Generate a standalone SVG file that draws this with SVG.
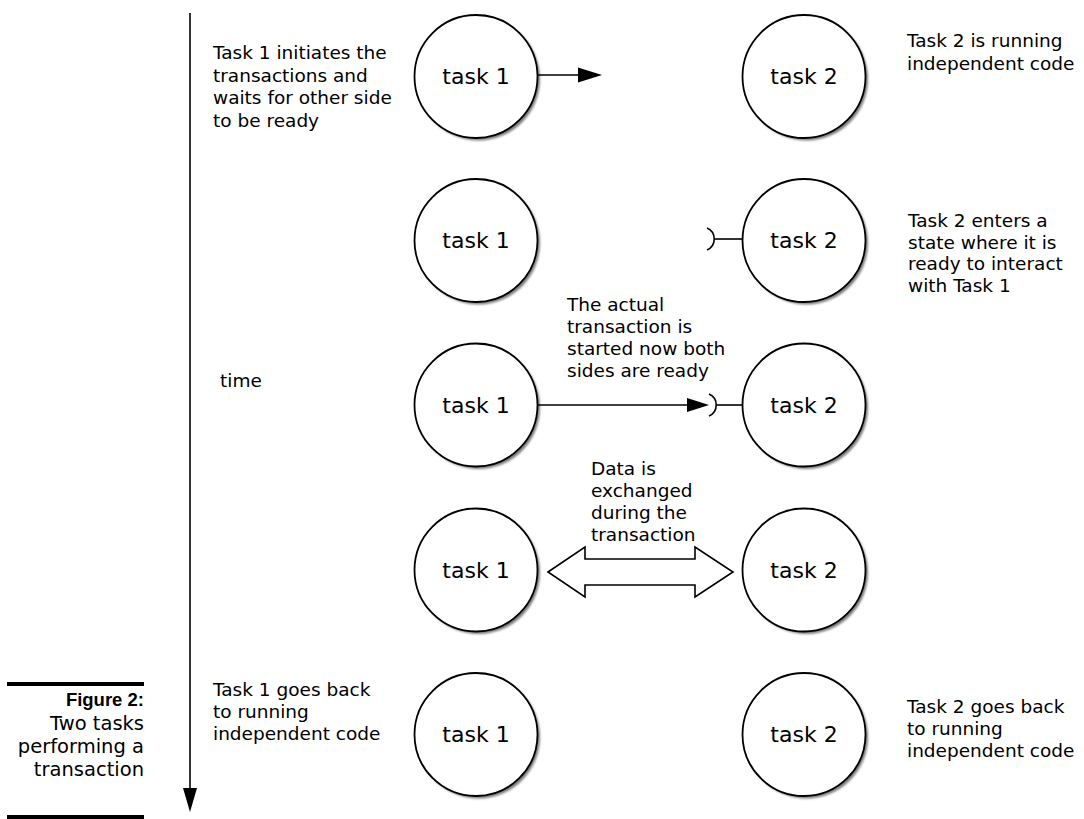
<svg xmlns="http://www.w3.org/2000/svg" width="1084" height="819" viewBox="0 0 1084 819">
  <defs>
    <style>
      text { font-family: "DejaVu Sans", "Liberation Sans", sans-serif; fill: #000; }
      .note { font-size: 18.5px; }
      .label { font-size: 22px; text-anchor: middle; }
      .cap { font-size: 19.5px; text-anchor: end; }
      .capb { font-family: "Liberation Sans", "DejaVu Sans", sans-serif; font-size: 18.5px; text-anchor: end; font-weight: bold; }
      .ring { fill: #fff; stroke: #000; stroke-width: 1.8; }
      .shade { fill: #7a7a7a; filter: url(#soft); }
      .wire { fill: none; stroke: #000; stroke-width: 1.6; }
      .head { fill: #000; stroke: none; }
      .bar { stroke: #000; stroke-width: 4; }
    </style>
    <filter id="soft" x="-10%" y="-10%" width="120%" height="120%">
      <feGaussianBlur stdDeviation="1"/>
    </filter>
  </defs>
  <rect width="1084" height="819" fill="#fff"/>

  <!-- time axis -->
  <g id="time-axis">
    <line class="wire" x1="190" y1="13" x2="190" y2="790"/>
    <polygon class="head" points="183,788 197,788 190,812"/>
    <text class="note" x="220" y="387">time</text>
  </g>

  <!-- caption -->
  <g id="caption">
    <line class="bar" x1="7" y1="684" x2="144" y2="684"/>
    <text class="capb" x="144" y="706">Figure 2:</text>
    <text class="cap" x="144" y="730">Two tasks</text>
    <text class="cap" x="144" y="753">performing a</text>
    <text class="cap" x="144" y="776">transaction</text>
    <line class="bar" x1="7" y1="817" x2="144" y2="817"/>
  </g>

  <!-- row 1 -->
  <g id="t1-r1">
    <circle class="shade" cx="478.5" cy="79" r="61.5"/>
    <circle class="ring" cx="476" cy="76.5" r="61.5"/>
    <text class="label" x="476" y="84">task 1</text>
  </g>
  <g id="t2-r1">
    <circle class="shade" cx="806.5" cy="79" r="61.5"/>
    <circle class="ring" cx="804" cy="76.5" r="61.5"/>
    <text class="label" x="804" y="84">task 2</text>
  </g>

  <!-- row 2 -->
  <g id="t1-r2">
    <circle class="shade" cx="478.5" cy="243" r="61.5"/>
    <circle class="ring" cx="476" cy="240.5" r="61.5"/>
    <text class="label" x="476" y="248">task 1</text>
  </g>
  <g id="t2-r2">
    <circle class="shade" cx="806.5" cy="243" r="61.5"/>
    <circle class="ring" cx="804" cy="240.5" r="61.5"/>
    <text class="label" x="804" y="248">task 2</text>
  </g>

  <!-- row 3 -->
  <g id="t1-r3">
    <circle class="shade" cx="478.5" cy="407.5" r="61.5"/>
    <circle class="ring" cx="476" cy="405" r="61.5"/>
    <text class="label" x="476" y="412.5">task 1</text>
  </g>
  <g id="t2-r3">
    <circle class="shade" cx="806.5" cy="407.5" r="61.5"/>
    <circle class="ring" cx="804" cy="405" r="61.5"/>
    <text class="label" x="804" y="412.5">task 2</text>
  </g>

  <!-- row 4 -->
  <g id="t1-r4">
    <circle class="shade" cx="478.5" cy="572.5" r="61.5"/>
    <circle class="ring" cx="476" cy="570" r="61.5"/>
    <text class="label" x="476" y="577.5">task 1</text>
  </g>
  <g id="t2-r4">
    <circle class="shade" cx="806.5" cy="572.5" r="61.5"/>
    <circle class="ring" cx="804" cy="570" r="61.5"/>
    <text class="label" x="804" y="577.5">task 2</text>
  </g>

  <!-- row 5 -->
  <g id="t1-r5">
    <circle class="shade" cx="478.5" cy="737" r="61.5"/>
    <circle class="ring" cx="476" cy="734.5" r="61.5"/>
    <text class="label" x="476" y="742">task 1</text>
  </g>
  <g id="t2-r5">
    <circle class="shade" cx="806.5" cy="737" r="61.5"/>
    <circle class="ring" cx="804" cy="734.5" r="61.5"/>
    <text class="label" x="804" y="742">task 2</text>
  </g>

  <!-- connectors -->
  <g id="connectors">
    <!-- row 1: task 1 reaches out -->
    <line class="wire" x1="537.5" y1="75" x2="580" y2="75"/>
    <polygon class="head" points="578,67.5 602,75 578,82.5"/>
    <!-- row 2: task 2 offers a socket -->
    <line class="wire" x1="714" y1="239" x2="742.5" y2="239"/>
    <path class="wire" d="M707 228 A12 12 0 0 1 707 250"/>
    <!-- row 3: call plugs into the socket -->
    <line class="wire" x1="537.5" y1="405" x2="690" y2="405"/>
    <polygon class="head" points="687,398 709,405 687,412"/>
    <path class="wire" d="M709 394 A12 12 0 0 1 709 416"/>
    <line class="wire" x1="716" y1="405" x2="742.5" y2="405"/>
    <!-- row 4: two-way exchange -->
    <polygon class="wire" points="548,572 585,547 585,559 695,559 695,547 733,572 695,597 695,585 585,585 585,597"/>
  </g>

  <!-- notes -->
  <g id="note-r1-left">
    <text class="note" x="213" y="59">Task 1 initiates the</text>
    <text class="note" x="213" y="81.5">transactions and</text>
    <text class="note" x="213" y="104">waits for other side</text>
    <text class="note" x="213" y="126.5">to be ready</text>
  </g>
  <g id="note-r1-right">
    <text class="note" x="907" y="47">Task 2 is running</text>
    <text class="note" x="907" y="70">independent code</text>
  </g>
  <g id="note-r2-right">
    <text class="note" x="908" y="227">Task 2 enters a</text>
    <text class="note" x="908" y="248.5">state where it is</text>
    <text class="note" x="908" y="270">ready to interact</text>
    <text class="note" x="908" y="291.5">with Task 1</text>
  </g>
  <g id="note-r3">
    <text class="note" x="567" y="311">The actual</text>
    <text class="note" x="567" y="333">transaction is</text>
    <text class="note" x="567" y="355">started now both</text>
    <text class="note" x="567" y="377">sides are ready</text>
  </g>
  <g id="note-r4">
    <text class="note" x="591" y="475">Data is</text>
    <text class="note" x="591" y="497">exchanged</text>
    <text class="note" x="591" y="519">during the</text>
    <text class="note" x="591" y="541">transaction</text>
  </g>
  <g id="note-r5-left">
    <text class="note" x="213" y="696">Task 1 goes back</text>
    <text class="note" x="213" y="718">to running</text>
    <text class="note" x="213" y="740">independent code</text>
  </g>
  <g id="note-r5-right">
    <text class="note" x="907" y="713">Task 2 goes back</text>
    <text class="note" x="907" y="735">to running</text>
    <text class="note" x="907" y="757">independent code</text>
  </g>
</svg>
